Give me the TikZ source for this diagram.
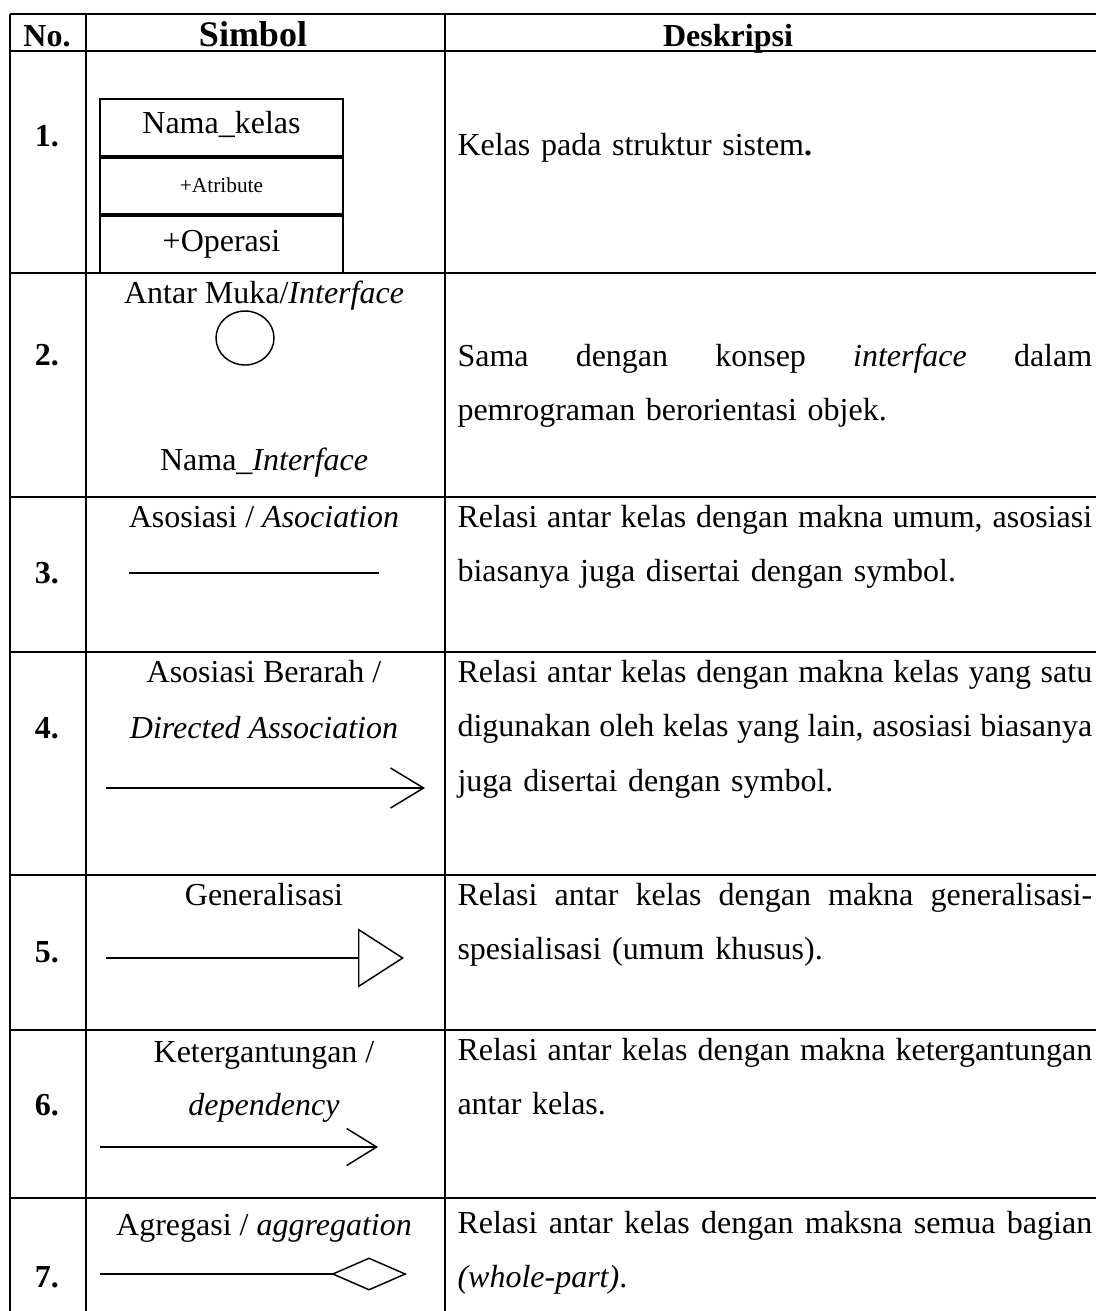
\documentclass[tikz,border=0pt]{standalone}
\usepackage{fontspec}
\setmainfont{Liberation Serif}
\usetikzlibrary{arrows.meta, positioning, shapes.geometric}

\newlength{\deskw}
\setlength{\deskw}{238pt}
\newcommand{\jline}[1]{\leavevmode\hbox to \deskw{%
    \spaceskip=0.25em plus 1fil minus 0.09em\relax #1}}

\begin{document}
\begin{tikzpicture}[
    x=0.375pt, y=-0.375pt,
    font=\fontsize{12}{14.4}\selectfont,
    garis/.style  ={line width=0.75pt, black},
    hdr/.style    ={font=\fontsize{12}{14.4}\selectfont\bfseries,
                    anchor=base, inner sep=0pt},
    nomor/.style  ={font=\fontsize{12}{14.4}\selectfont\bfseries,
                    anchor=base, inner sep=0pt},
    simtxt/.style ={anchor=base, inner sep=0pt},
    kelas/.style  ={rectangle, draw, line width=0.75pt,
                    minimum width=91pt, minimum height=21.25pt,
                    text height=8pt, text depth=3pt, inner sep=0pt},
    desk/.style   ={anchor=base west, text width=\deskw, align=left,
                    inner sep=0pt, font=\fontsize{12}{20.6}\selectfont},
    relasi/.style ={line width=0.55pt}
]
\useasboundingbox (0,0) rectangle (1096,1311);

% ============================================================
% GARIS TABEL
% ============================================================

\foreach \y in {14, 51, 273, 497, 652, 875, 1030, 1198}
    \draw[garis] (10,\y) -- (1096,\y);
\foreach \x in {10, 86, 445}
    \draw[garis] (\x,14) -- (\x,1311);

% -- judul kolom --
\node[hdr] (hno)  at (47,46)  {No.};
\node[hdr, font=\fontsize{13.5}{16}\selectfont\bfseries] (hsim) at (253,46) {Simbol};
\node[hdr] (hdes) at (728,46) {Deskripsi};

% -- nomor baris --
\node[nomor] (n1) at (47,146)  {1.};
\node[nomor] (n2) at (47,365)  {2.};
\node[nomor] (n3) at (47,583)  {3.};
\node[nomor] (n4) at (47,738)  {4.};
\node[nomor] (n5) at (47,962)  {5.};
\node[nomor] (n6) at (47,1115) {6.};
\node[nomor] (n7) at (47,1287) {7.};

% ============================================================
% KOLOM SIMBOL
% ============================================================

% -- 1. kelas --
\node[kelas] (ck1) at (221.5,127.3) {Nama\_kelas};
\node[kelas, below=0 of ck1, font=\fontsize{8}{9.6}\selectfont] (ck2) {+Atribute};
\node[kelas, below=0 of ck2] (ck3) {+Operasi};

% -- 2. antar muka --
\node[simtxt] (im1) at (264,303) {Antar Muka/\textit{Interface}};
\node[ellipse, draw, line width=0.55pt, inner sep=0pt,
      minimum width=21.75pt, minimum height=20.25pt] (lingkar) at (245,338) {};
\node[simtxt] (im2) at (264,470) {Nama\_\textit{Interface}};

% -- 3. asosiasi --
\node[simtxt] (as1) at (264,527) {Asosiasi / \textit{Asociation}};
\coordinate (as3a) at (129,573);
\coordinate (as3b) at (379,573);
\draw[relasi] (as3a) -- (as3b);

% -- 4. asosiasi berarah --
\node[simtxt] (ab1) at (264,682) {Asosiasi Berarah /};
\node[simtxt] (ab2) at (264,738) {\textit{Directed Association}};
\coordinate (ab4a) at (106,788);
\coordinate (ab4b) at (425,788);
\draw[relasi, -{Straight Barb[length=12.4pt, width=15pt]}] (ab4a) -- (ab4b);

% -- 5. generalisasi --
\node[simtxt] (ge1) at (264,905) {Generalisasi};
\coordinate (ge5a) at (106,958);
\coordinate (ge5b) at (404,958);
\draw[relasi, -{Triangle[open, length=17.25pt, width=22.1pt]}] (ge5a) -- (ge5b);

% -- 6. ketergantungan --
\node[simtxt] (kt1) at (264,1062) {Ketergantungan /};
\node[simtxt] (kt2) at (264,1115) {\textit{dependency}};
\coordinate (kt6a) at (100,1147);
\coordinate (kt6b) at (378,1147);
\draw[relasi, -{Straight Barb[length=11.25pt, width=13.9pt]}] (kt6a) -- (kt6b);

% -- 7. agregasi --
\node[simtxt] (ag1) at (264,1235) {Agregasi / \textit{aggregation}};
\coordinate (ag7a) at (100,1274);
\coordinate (ag7b) at (407,1274);
\draw[relasi, -{Diamond[open, length=28.5pt, width=12.4pt]}] (ag7a) -- (ag7b);

% ============================================================
% KOLOM DESKRIPSI
% ============================================================

\node[desk] (d1) at (457,155) {Kelas pada struktur sistem\textbf{.}};
\node[desk] (d2) at (457,366)
    {\jline{Sama dengan konsep \textit{interface} dalam}\\
     pemrograman berorientasi objek.};
\node[desk] (d3) at (457,527)
    {\jline{Relasi antar kelas dengan makna umum, asosiasi}\\
     biasanya juga disertai dengan symbol.};
\node[desk] (d4) at (457,682)
    {\jline{Relasi antar kelas dengan makna kelas yang satu}\\
     \jline{digunakan oleh kelas yang lain, asosiasi biasanya}\\
     juga disertai dengan symbol.};
\node[desk] (d5) at (457,905)
    {\jline{Relasi antar kelas dengan makna generalisasi-}\\
     spesialisasi (umum khusus).};
\node[desk] (d6) at (457,1060)
    {\jline{Relasi antar kelas dengan makna ketergantungan}\\
     antar kelas.};
\node[desk] (d7) at (457,1233)
    {\jline{Relasi antar kelas dengan maksna semua bagian}\\
     \textit{(whole-part)}.};

\end{tikzpicture}
\end{document}
